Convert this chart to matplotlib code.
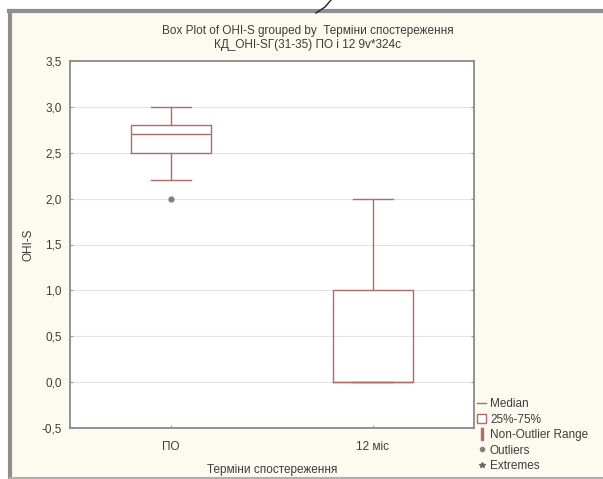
import matplotlib.pyplot as plt
from matplotlib.patches import Rectangle, Patch
from matplotlib.lines import Line2D

plt.rcParams['font.family'] = ['Liberation Sans', 'DejaVu Sans']

# data
groups = ['ПО', '12 міс']
medians = [2.7, 0.0]
q1 = [2.5, 0.0]
q3 = [2.8, 1.0]
whisker_low = [2.2, 0.0]
whisker_high = [3.0, 2.0]
outliers = [[2.0], []]
yticks = [-0.5, 0.0, 0.5, 1.0, 1.5, 2.0, 2.5, 3.0, 3.5]

box_col = '#b36a6a'
txt_col = '#3c3c3c'
fs = 8.5
W, H = 603, 479

fig = plt.figure(figsize=(W / 100, H / 100), dpi=100, facecolor='white')

# window frame of the screenshot
fig.add_artist(Rectangle((11 / W, 2 / H), 1, 1 - 13 / H, transform=fig.transFigure,
                         facecolor='#fdfaf0', edgecolor='none', zorder=-10))
fig.add_artist(Line2D([9 / W, 1], [1 - 11 / H, 1 - 11 / H], transform=fig.transFigure,
                      color='#8e8e8e', lw=3, zorder=-5))
fig.add_artist(Line2D([10 / W, 10 / W], [0, 1 - 11 / H], transform=fig.transFigure,
                      color='#8e8e8e', lw=3, zorder=-5))
fig.add_artist(Line2D([10 / W, 1], [1.5 / H, 1.5 / H], transform=fig.transFigure,
                      color='#b0b0b0', lw=1.5, zorder=-5))
fig.add_artist(Line2D([316 / W, 325 / W, 331 / W], [1 - 13 / H, 1 - 7 / H, 1.0],
                      transform=fig.transFigure, color='#222222', lw=1))

ax = fig.add_axes([70 / W, 1 - 428 / H, 404 / W, 367 / H])
ax.set_facecolor('white')

stats = []
for i in range(len(groups)):
    stats.append({'med': medians[i], 'q1': q1[i], 'q3': q3[i],
                  'whislo': whisker_low[i], 'whishi': whisker_high[i],
                  'fliers': outliers[i], 'label': groups[i]})

ax.bxp(stats, positions=range(len(groups)), widths=0.4, showfliers=True,
       boxprops=dict(color=box_col, lw=1),
       medianprops=dict(color=box_col, lw=1),
       whiskerprops=dict(color=box_col, lw=1),
       capprops=dict(color=box_col, lw=1),
       capwidths=0.2,
       flierprops=dict(marker='o', markersize=3.5, markerfacecolor='#8f7a7a',
                       markeredgecolor='#8f7a7a'))

ax.set_xlim(-0.5, 1.5)
ax.set_ylim(-0.5, 3.5)
ax.set_yticks(yticks)
ax.set_yticklabels([f'{v:.1f}'.replace('.', ',') for v in yticks])
ax.grid(axis='y', color='#e4e4e4', lw=0.8)
ax.set_axisbelow(True)
ax.tick_params(direction='in', length=2, color='#9a9a9a', labelsize=fs,
               labelcolor=txt_col, right=True)
ax.tick_params(axis='x', pad=9)
ax.tick_params(axis='y', pad=6)
for s in ax.spines.values():
    s.set_color('#8a8a8a')
    s.set_linewidth(1.3)

ax.set_ylabel('OHI-S', fontsize=fs, color=txt_col, labelpad=5)
ax.set_xlabel('Терміни спостереження', fontsize=fs, color=txt_col, labelpad=8)

fig.text(308 / W, 1 - 31 / H, 'Box Plot of OHI-S grouped by  Терміни спостереження',
         ha='center', va='center', fontsize=fs, color=txt_col)
fig.text(308 / W, 1 - 45 / H, 'КД_OHI-SГ(31-35) ПО і 12 9v*324c',
         ha='center', va='center', fontsize=fs, color=txt_col)

handles = [
    Line2D([], [], color=box_col, lw=1),
    Patch(facecolor='white', edgecolor=box_col, lw=1),
    Line2D([], [], color=box_col, lw=0, marker='$\\mathrm{I}$', markersize=9),
    Line2D([], [], color='#8f7a7a', lw=0, marker='o', markersize=3),
    Line2D([], [], color='#6b6b6b', lw=0, marker='*', markersize=4),
]
labels = ['Median', '25%-75%', 'Non-Outlier Range', 'Outliers', 'Extremes']
fig.legend(handles, labels, loc='upper left', bbox_to_anchor=(477 / W, 1 - 398 / H),
           frameon=False, fontsize=fs, labelcolor=txt_col, handlelength=0.8,
           handleheight=0.9, handletextpad=0.3, labelspacing=0.3, borderpad=0,
           borderaxespad=0)

fig.savefig('out.png', dpi=100, facecolor=fig.get_facecolor())
